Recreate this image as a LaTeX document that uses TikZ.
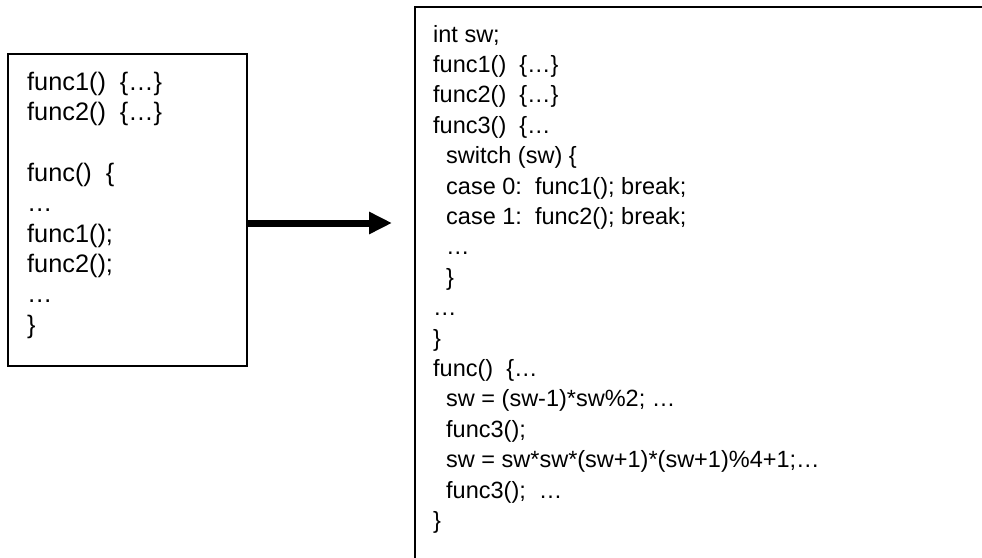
\documentclass[tikz,border=0pt]{standalone}
\usepackage{fontspec}
\setmainfont{Liberation Sans}
\usetikzlibrary{arrows.meta}
\newcommand{\indsp}{\hspace*{13pt}}

\begin{document}
\begin{tikzpicture}[x=1pt, y=-1pt,
    box/.style={draw, line width=2pt, inner sep=0pt, outer sep=0pt, anchor=north west},
    code/.style={anchor=north west, inner sep=0pt, align=left, font=\fontsize{23.5}{30.4}\selectfont},
    bigcode/.style={code, font=\fontsize{25.3}{30.4}\selectfont},
    fatarrow/.style={line width=7pt, -{Triangle[length=23pt, width=21pt]}}]
    \useasboundingbox (0,0) rectangle (982,557);
    \clip (0,0) rectangle (982,557);
    \fill [white] (0,0) rectangle (982,557);
    % boxes
    \node [box, minimum width=239pt, minimum height=312pt] (lbox) at (8.3,54.3) {};
    \node [box, minimum width=620pt, minimum height=620pt] (rbox) at (414.5,7) {};
    % code
    \node [bigcode] (ltext) at (27,68.7) {\strut func1()\ \ \{…\}\\
      func2()\ \ \{…\}\\[30.4pt]
      func()\ \ \{\\
      …\\
      func1();\\
      func2();\\
      …\\
      \}};
    \node [code] (rtext) at (433,20.7) {\strut int sw;\\
      func1()\ \ \{…\}\\
      func2()\ \ \{…\}\\
      func3()\ \ \{…\\
      \indsp switch (sw) \{\\
      \indsp case 0:\ \ func1(); break;\\
      \indsp case 1:\ \ func2(); break;\\
      \indsp …\\
      \indsp \}\\
      …\\
      \}\\
      func()\ \ \{…\\
      \indsp sw = (sw-1)*sw\%2; …\\
      \indsp func3();\\
      \indsp sw = sw*sw*(sw+1)*(sw+1)\%4+1;…\\
      \indsp func3();\ \ …\\
      \}};
    % arrow
    \coordinate (tip) at (392,223);
    \draw [fatarrow] (lbox.east |- tip) -- (tip);
\end{tikzpicture}
\end{document}
